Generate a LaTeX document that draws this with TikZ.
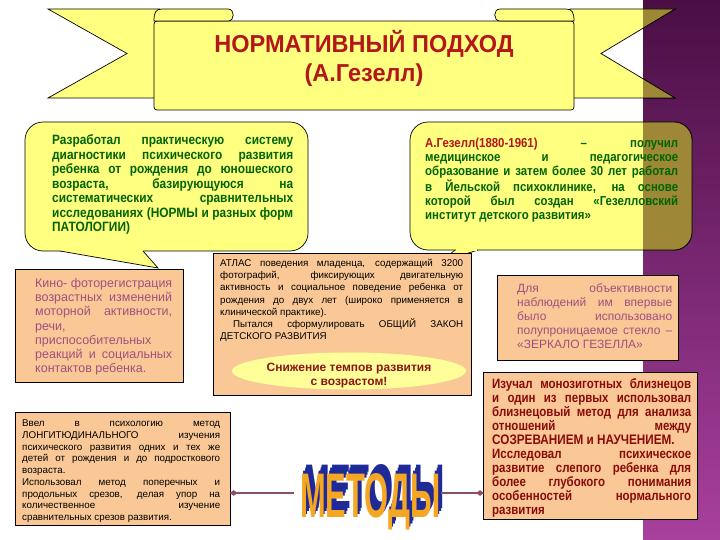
\documentclass[tikz,border=0pt]{standalone}
\usepackage{fontspec}
\setmainfont{Liberation Sans}
\usepackage{graphicx}
\usetikzlibrary{arrows.meta,shapes.geometric}
\definecolor{ribyel}{HTML}{FFFF80}
\definecolor{peach}{HTML}{FAC896}
\definecolor{olivex}{HTML}{9E8838}
\definecolor{grn}{HTML}{006400}
\definecolor{titred}{HTML}{B3161B}
\definecolor{maroonx}{HTML}{8A0A0A}
\definecolor{plumx}{HTML}{A0507E}
\definecolor{bandtop}{HTML}{4A0E44}
\definecolor{bandbot}{HTML}{A8409E}
\definecolor{wordor}{HTML}{F5A623}
\definecolor{wordbl}{HTML}{1F2A99}
\definecolor{connx}{HTML}{8F4F60}
\definecolor{ellyel}{HTML}{FFFF99}
\definecolor{elltext}{HTML}{8C1414}
\newsavebox\jlbox
\newlength\bw
\newcommand\jl[2]{\sbox\jlbox{#2}\ifdim\wd\jlbox>#1\relax\resizebox{#1}{\height}{\usebox\jlbox}\else\makebox[#1][s]{#2}\fi}
\newcommand\lline[2]{\sbox\jlbox{#2}\ifdim\wd\jlbox>#1\relax\resizebox{#1}{\height}{\usebox\jlbox}\else\makebox[#1][l]{#2}\fi}
\newcommand\blk[3]{\setlength\bw{#1}\scalebox{#2}[1]{\parbox[t]{\bw}{\leavevmode #3}}}
\newcommand\shcopy[2]{\rlap{\hspace*{#1pt}\raisebox{#2pt}{МЕТОДЫ}}}
\tikzset{
  edge/.style={draw=black, line width=0.7pt},
  yelshape/.style={edge, fill=ribyel},
  peachbox/.style={edge, fill=peach, inner sep=0pt, anchor=north west},
  txt/.style={inner sep=0pt, anchor=base west},
  connline/.style={line width=2.6pt, draw=connx, -{Circle[length=6pt,width=5pt]}},
}
\begin{document}
\begin{tikzpicture}[x=1pt,y=-1pt]
\useasboundingbox (0,0) rectangle (720,540);
\fill[white] (0,0) rectangle (720,540);
\shade[top color=bandtop, bottom color=bandbot] (643,0) rectangle (720,540);
% ---------- banner ----------
\path[yelshape] (48,9) -- (160,9) -- (160,98) -- (48,98) -- (127,53.5) -- cycle;
\path[yelshape] (570,9) -- (675,9) -- (601,53.5) -- (675,98) -- (570,98) -- cycle;
\begin{scope}
\clip (643,0) rectangle (720,540);
\path[edge, fill=olivex] (570,9) -- (675,9) -- (601,53.5) -- (675,98) -- (570,98) -- cycle;
\end{scope}
\path[yelshape, rounded corners=3pt] (154,21) -- (574,21) -- (574,110) -- (154,110) -- cycle;
\path[yelshape] (154,21) .. controls (154,12) and (156,9) .. (162,9) -- (228,9) .. controls (235,9) and (235,21) .. (228,21) -- cycle;
\path[yelshape] (574,21) .. controls (574,12) and (572,9) .. (566,9) -- (500,9) .. controls (493,9) and (493,21) .. (500,21) -- cycle;
\node[inner sep=0pt, anchor=base, text=titred, font=\fontsize{24.5}{28}\selectfont\bfseries] (title1) at (364,53) {\scalebox{0.96}[1]{НОРМАТИВНЫЙ ПОДХОД}};
\node[inner sep=0pt, anchor=base, text=titred, font=\fontsize{24.5}{28}\selectfont\bfseries] (title2) at (364,82) {\scalebox{0.96}[1]{(А.Гезелл)}};
% ---------- left callout ----------
\path[yelshape, rounded corners=18pt] (25,122) rectangle (308,251);
\fill[ribyel] (60,249) -- (143,249) -- (143,251) -- (158,268) -- (60,251) -- cycle;
\draw[edge, line join=miter] (143,251) -- (158,268) -- (60,251);
\node[txt] (lct) at (52,145) {\blk{273.9pt}{0.88}{\fontsize{13.5}{14.5}\selectfont\bfseries\color{grn}%
\jl{\bw}{Разработал практическую систему}\\
\jl{\bw}{диагностики психического развития}\\
\jl{\bw}{ребенка от рождения до юношеского}\\
\jl{\bw}{возраста, базирующуюся на}\\
\jl{\bw}{систематических сравнительных}\\
\jl{\bw}{исследованиях (НОРМЫ и разных форм}\\
\lline{\bw}{ПАТОЛОГИИ)}}};
% ---------- right callout ----------
\fill[ribyel] (455,248) -- (478,248) -- (478,250) -- (440,262) -- (455,250) -- cycle;
\draw[edge] (478,250) -- (440,262) -- (455,250);
\path[yelshape, rounded corners=18pt] (410,122) rectangle (692,250);
\fill[ribyel] (456,248.5) rectangle (477,251);
\begin{scope}
\clip (643,0) rectangle (720,540);
\path[edge, fill=olivex, rounded corners=18pt] (410,122) rectangle (692,250);
\end{scope}
\node[txt] (rct) at (425,147.5) {\blk{287.5pt}{0.88}{\fontsize{13}{14.2}\selectfont\bfseries\color{grn}%
\jl{\bw}{\textcolor{titred}{А.Гезелл(1880-1961)} – получил}\\
\jl{\bw}{медицинское и педагогическое}\\
\jl{\bw}{образование и затем более 30 лет работал}\\
\jl{\bw}{в Йельской психоклинике, на основе}\\
\jl{\bw}{которой был создан «Гезелловский}\\
\lline{\bw}{институт детского развития»}}};
% ---------- Kino box ----------
\node[peachbox, minimum width=168pt, minimum height=113pt] (kino) at (15,269) {};
\node[txt] (kinot) at (35,287.5) {\blk{137pt}{1}{\fontsize{12.5}{14.2}\selectfont\color{plumx}%
\jl{\bw}{Кино- фоторегистрация}\\
\jl{\bw}{возрастных изменений}\\
\jl{\bw}{моторной активности,}\\
\lline{\bw}{речи,}\\
\lline{\bw}{приспособительных}\\
\jl{\bw}{реакций и социальных}\\
\lline{\bw}{контактов ребенка.}}};
% ---------- Atlas box ----------
\node[peachbox, minimum width=258pt, minimum height=142pt] (atlas) at (213,253) {};
\node[txt] (atlast) at (220,266.5) {\blk{243pt}{1}{\fontsize{9.8}{12.2}\selectfont\color{black}%
\jl{\bw}{АТЛАС поведения младенца, содержащий 3200}\\
\jl{\bw}{фотографий, фиксирующих двигательную}\\
\jl{\bw}{активность и социальное поведение ребенка от}\\
\jl{\bw}{рождения до двух лет (широко применяется в}\\
\lline{\bw}{клинической практике).}\\
\jl{\bw}{\hspace*{13pt}Пытался сформулировать ОБЩИЙ ЗАКОН}\\
\lline{\bw}{ДЕТСКОГО РАЗВИТИЯ}}};
\node[ellipse, fill=ellyel, inner sep=0pt, minimum width=234pt, minimum height=37pt] (ell) at (349,371) {};
\node[inner sep=0pt, anchor=base, text=elltext, font=\fontsize{12}{14}\selectfont\bfseries] (ellt1) at (349,371.5) {Снижение темпов развития};
\node[inner sep=0pt, anchor=base, text=elltext, font=\fontsize{12}{14}\selectfont\bfseries] (ellt2) at (349,385.5) {с возрастом!};
% ---------- mirror box ----------
\node[peachbox, minimum width=181pt, minimum height=85pt] (mirror) at (497,275) {};
\node[txt] (mirrort) at (517,292) {\blk{155pt}{1}{\fontsize{12}{14.2}\selectfont\color{plumx}%
\jl{\bw}{Для объективности}\\
\jl{\bw}{наблюдений им впервые}\\
\jl{\bw}{было использовано}\\
\jl{\bw}{полупроницаемое стекло –}\\
\lline{\bw}{«ЗЕРКАЛО ГЕЗЕЛЛА»}}};
% ---------- bottom-left box ----------
\node[peachbox, minimum width=215pt, minimum height=113pt] (bl) at (15,412) {};
\node[txt] (blt) at (22,426.5) {\blk{198pt}{1}{\fontsize{9.8}{11.75}\selectfont\color{black}%
\jl{\bw}{Ввел в психологию метод}\\
\jl{\bw}{ЛОНГИТЮДИНАЛЬНОГО изучения}\\
\jl{\bw}{психического развития одних и тех же}\\
\jl{\bw}{детей от рождения и до подросткового}\\
\lline{\bw}{возраста.}\\
\jl{\bw}{Использовал метод поперечных и}\\
\jl{\bw}{продольных срезов, делая упор на}\\
\jl{\bw}{количественное изучение}\\
\lline{\bw}{сравнительных срезов развития.}}};
% ---------- bottom-right box ----------
\node[peachbox, minimum width=214pt, minimum height=147pt] (br) at (483,372) {};
\node[txt] (brt) at (492,388) {\blk{234.1pt}{0.85}{\fontsize{13.5}{14}\selectfont\bfseries\color{maroonx}%
\jl{\bw}{Изучал монозиготных близнецов}\\
\jl{\bw}{и один из первых использовал}\\
\jl{\bw}{близнецовый метод для анализа}\\
\jl{\bw}{отношений между}\\
\lline{\bw}{{\fontsize{13.8}{14}\selectfont СОЗРЕВАНИЕМ и НАУЧЕНИЕМ.}}\\
\jl{\bw}{Исследовал психическое}\\
\jl{\bw}{развитие слепого ребенка для}\\
\jl{\bw}{более глубокого понимания}\\
\jl{\bw}{особенностей нормального}\\
\lline{\bw}{развития}}};
% ---------- METHODS word ----------
\node[inner sep=0pt, anchor=base west, text=wordbl, font=\fontsize{63}{63}\selectfont\bfseries] (mshadow) at (300,517) {\scalebox{0.49}[1]{\shcopy{8}{9}\shcopy{5}{5.5}\shcopy{2.5}{2.5}}};
\node[inner sep=0pt, anchor=base west, text=wordor, font=\fontsize{63}{63}\selectfont\bfseries] (metody) at (300,517) {\scalebox{0.49}[1]{МЕТОДЫ}};
\coordinate (mL) at (294,493);
\coordinate (mR) at (441,493);
\draw[connline] (mL) -- (bl.east |- mL);
\draw[connline] (mR) -- (br.west |- mR);
\end{tikzpicture}
\end{document}
